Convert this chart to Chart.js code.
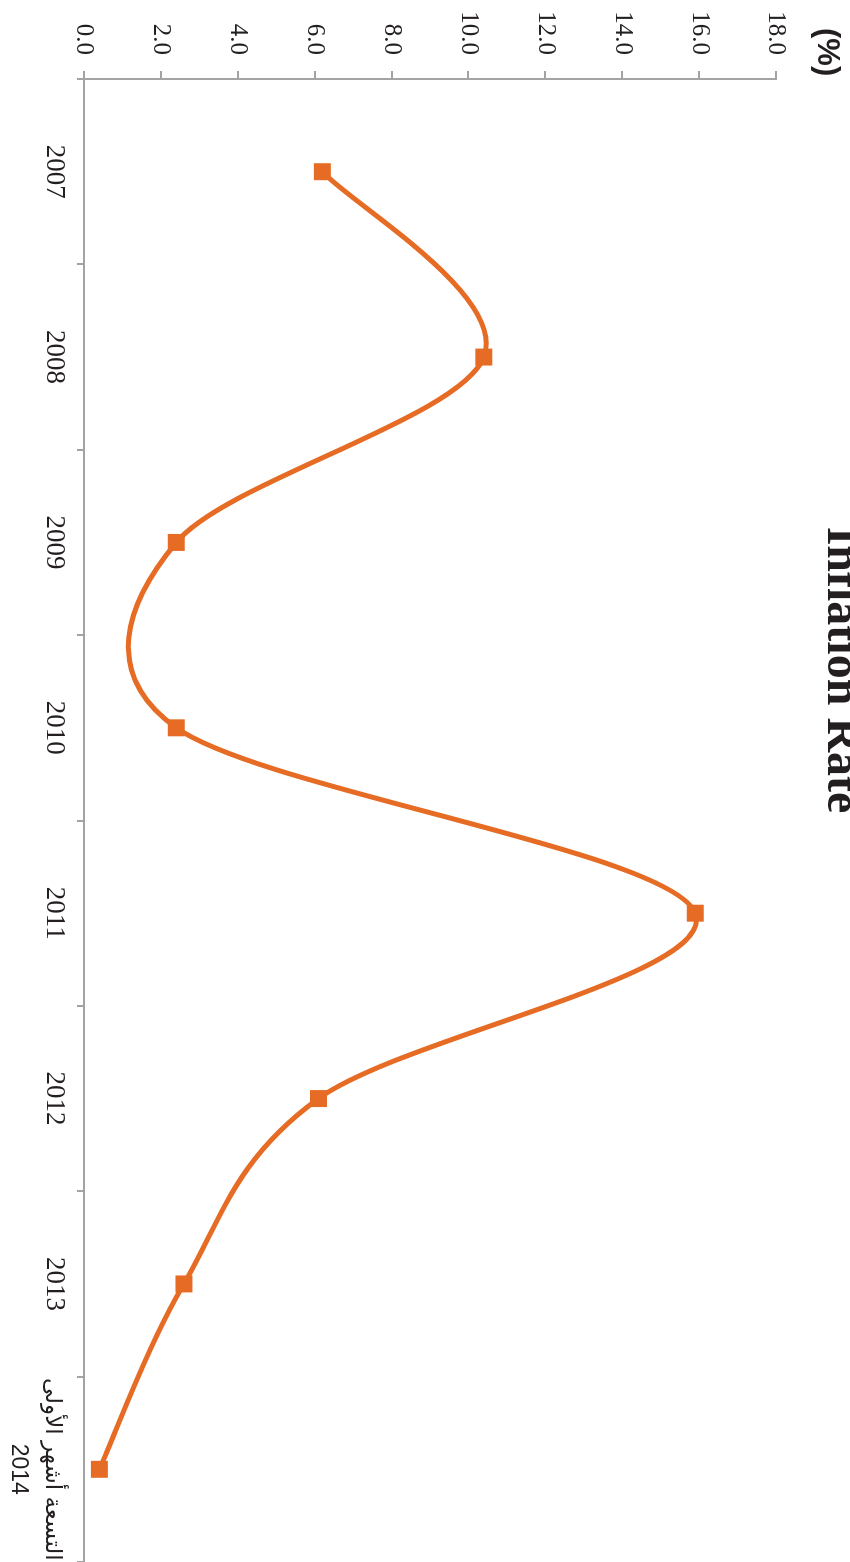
<!DOCTYPE html>
<html>
<head>
<meta charset="utf-8">
<script src="https://cdn.jsdelivr.net/npm/chart.js@4"></script>
<style>
  html, body { margin: 0; padding: 0; background: #ffffff; overflow: hidden; }
  #wrap {
    position: absolute; left: 0; top: 0;
    width: 1562px; height: 850px;
    transform-origin: 0 0;
    transform: translate(850px, 0) rotate(90deg);
  }
  canvas { display: block; }
</style>
</head>
<body>
<div id="wrap"><canvas id="c" width="1562" height="850"></canvas></div>
<script>
// ---- data ----
const categories = ['2007', '2008', '2009', '2010', '2011', '2012', '2013', ['التسعة أشهر الأولى', '2014']];
const inflation = [6.2, 10.4, 2.4, 2.4, 15.9, 6.1, 2.6, 0.4];
const valueMin = 0;
const valueMax = 18;
const valueStep = 2;
const chartTitle = 'Inflation Rate';
const unitLabel = '(%)';

// ---- styles ----
const lineColor = '#E66C25';
const axisColor = '#A3A3A3';
const textColor = '#231F20';

// Excel-style smoothing: control handles of 1/6 of the neighbour chord,
// capped at half of the segment length, computed from the element positions.
const excelSmooth = {
  id: 'excelSmooth',
  beforeDatasetDraw(chart, args) {
    const meta = args.meta;
    const line = meta.dataset;
    if (!line) return;
    line.updateControlPoints(chart.chartArea, meta.iScale.axis);
    const pts = meta.data;
    const n = pts.length;
    const dist = (a, b) => Math.hypot(b.x - a.x, b.y - a.y);
    for (let i = 0; i < n - 1; i++) {
      const p1 = pts[i], p2 = pts[i + 1];
      const p0 = i > 0 ? pts[i - 1] : p1;
      const p3 = i + 2 < n ? pts[i + 2] : p2;
      const d02 = dist(p0, p2), d12 = dist(p1, p2), d13 = dist(p1, p3);
      let f0 = 1 / 6, f1 = 1 / 6;
      if (d02 / 6 > d12 / 2 && d02 > 0) f0 = d12 / (2 * d02);
      if (d13 / 6 > d12 / 2 && d13 > 0) f1 = d12 / (2 * d13);
      p1.cp2x = p1.x + (p2.x - p0.x) * f0;
      p1.cp2y = p1.y + (p2.y - p0.y) * f0;
      p2.cp1x = p2.x - (p3.x - p1.x) * f1;
      p2.cp1y = p2.y - (p3.y - p1.y) * f1;
    }
    line._path = undefined;
  }
};

const headerPlugin = {
  id: 'header',
  afterDraw(chart) {
    const ctx = chart.ctx;
    ctx.save();
    ctx.fillStyle = textColor;
    ctx.textBaseline = 'alphabetic';
    ctx.font = 'bold 48px "Liberation Serif", "Times New Roman", serif';
    ctx.textAlign = 'center';
    ctx.fillText(chartTitle, 670, 22);
    ctx.font = 'bold 31px "Liberation Sans", Arial, sans-serif';
    ctx.textAlign = 'left';
    ctx.fillText(unitLabel, 28, 32);
    ctx.restore();
  }
};

new Chart(document.getElementById('c'), {
  type: 'line',
  data: {
    labels: categories,
    datasets: [{
      data: inflation,
      borderColor: lineColor,
      backgroundColor: lineColor,
      borderWidth: 5,
      tension: 0.4,
      pointStyle: 'rect',
      pointRadius: 12,
      pointBorderWidth: 0,
      pointBackgroundColor: lineColor,
      pointBorderColor: lineColor,
      clip: false,
      fill: false
    }]
  },
  options: {
    responsive: false,
    animation: false,
    events: [],
    layout: { autoPadding: false, padding: { top: 74, right: 0, left: 0, bottom: 0 } },
    plugins: { legend: { display: false }, tooltip: { enabled: false }, title: { display: false } },
    scales: {
      x: {
        type: 'category',
        offset: true,
        afterFit(scale) { scale.height = 84; scale.paddingLeft = 0; scale.paddingRight = 0; },
        border: { display: true, color: axisColor, width: 2 },
        grid: { display: true, offset: true, drawOnChartArea: false, drawTicks: true, tickLength: 7, color: axisColor, lineWidth: 2 },
        ticks: {
          autoSkip: false,
          maxRotation: 0,
          minRotation: 0,
          padding: 7,
          color: textColor,
          font: (ctx) => ctx.index === categories.length - 1
            ? { family: '"Liberation Sans", Arial, "DejaVu Sans", sans-serif', size: 23, lineHeight: 1.5 }
            : { family: '"Liberation Serif", "Times New Roman", serif', size: 27, lineHeight: 1.2 }
        }
      },
      y: {
        min: valueMin,
        max: valueMax,
        afterFit(scale) { scale.width = 79; },
        border: { display: true, color: axisColor, width: 2 },
        grid: { display: true, drawOnChartArea: false, drawTicks: true, tickLength: 8, color: axisColor, lineWidth: 2 },
        ticks: {
          stepSize: valueStep,
          padding: 16,
          color: textColor,
          font: { family: '"Liberation Serif", "Times New Roman", serif', size: 25 },
          callback: (v) => Number(v).toFixed(1)
        }
      }
    }
  },
  plugins: [excelSmooth, headerPlugin]
});
</script>
</body>
</html>
